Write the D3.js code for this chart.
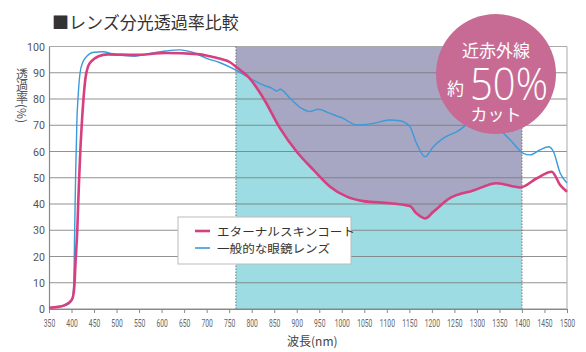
<!DOCTYPE html>
<html>
<head>
<meta charset="utf-8">
<script src="https://cdn.jsdelivr.net/npm/d3@7"></script>
<style>
  body { margin: 0; background: #fff; }
  svg { display: block; font-family: "Noto Sans CJK JP", "Noto Sans", sans-serif; }
</style>
</head>
<body>
<div id="chart"></div>
<script>
// data (wavelength nm, transmittance %)
const coatWl  = [350,370,385,395,402,406,409,413,415,417,420,423,427,431,437,445,460,480,540,610,680,707,730,752,767,792,826,863,900,937,974,1011,1048,1107,1151,1166,1185,1203,1240,1292,1344,1396,1433,1466,1485,1500];
const coatVal = [0.5,0.8,1.5,2.5,4,8,18,31,41,50,62,71,81,88,92.5,94.5,96.3,97,96.8,97.5,97.1,96.3,95.3,94,92,88.5,80.3,68.8,59.9,53,46.6,42.8,41.1,40.3,39.2,36.4,34.5,37,42.2,45.1,47.9,46.3,49.8,52.3,47.2,44.7];

const plainWl  = [350,380,395,402,405,407,409,412,415,419,425,430,440,450,470,490,510,540,570,610,640,670,700,730,765,792,826,846,856,863,885,911,929,948,974,1003,1033,1070,1107,1129,1151,1166,1185,1203,1225,1255,1290,1320,1345,1374,1403,1418,1440,1459,1470,1485,1500];
const plainVal = [0.5,1,2,4,10,30,50,72,82,90,94,95.5,97.2,97.8,98,97.3,96.6,96.3,97.2,98.3,98.7,97.7,95.5,93.8,91,88.3,85.3,84,83,83.7,80.3,76.4,75.2,76.1,74.5,72.6,70.1,70.7,72,71.7,69.5,63.1,58,61.8,65,67.5,71,71,69,64.4,59.3,58.7,60.6,61.8,59.9,51.7,48];

const seriesNames = ["エターナルスキンコート", "一般的な眼鏡レンズ"];
const xTicks = d3.range(350, 1501, 50);
const yTicks = d3.range(0, 101, 10);
const nirBand = [765, 1400];

const width = 586, height = 352;
const margin = {top: 46.5, right: 19, bottom: 43, left: 49};

const x = d3.scaleLinear().domain([350, 1500]).range([margin.left, width - margin.right]);
const y = d3.scaleLinear().domain([0, 100]).range([height - margin.bottom, margin.top]);

const coat = coatWl.map((w, i) => ({w, v: coatVal[i]}));
const plain = plainWl.map((w, i) => ({w, v: plainVal[i]}));

const svg = d3.select("#chart").append("svg")
  .attr("width", width).attr("height", height);

const narrow = "'Liberation Sans Narrow', 'Roboto', sans-serif";

// title
svg.append("text")
  .attr("x", 52).attr("y", 29)
  .attr("font-size", 17).attr("fill", "#333")
  .text("■レンズ分光透過率比較");

// band fills, clipped to the near-infrared range
svg.append("clipPath").attr("id", "band")
  .append("rect")
  .attr("x", x(nirBand[0])).attr("y", y(100))
  .attr("width", x(nirBand[1]) - x(nirBand[0]))
  .attr("height", y(0) - y(100));

const curve = d3.curveMonotoneX;
svg.append("path")
  .datum(coat)
  .attr("clip-path", "url(#band)")
  .attr("fill", "#9edce3")
  .attr("d", d3.area().curve(curve).x(d => x(d.w)).y0(y(0)).y1(d => y(d.v)));
svg.append("path")
  .datum(coat)
  .attr("clip-path", "url(#band)")
  .attr("fill", "#a7a7c3")
  .attr("d", d3.area().curve(curve).x(d => x(d.w)).y0(y(100)).y1(d => y(d.v)));

// grid
svg.append("g")
  .selectAll("line")
  .data(yTicks)
  .join("line")
  .attr("x1", x(350)).attr("x2", x(1500))
  .attr("y1", d => y(d)).attr("y2", d => y(d))
  .attr("stroke", d => d === 100 ? "#aaa" : "#777")
  .attr("stroke-opacity", d => d === 100 ? 1 : 0.8)
  .attr("stroke-width", 1.2);

// frame right
svg.append("line")
  .attr("x1", x(1500)).attr("x2", x(1500))
  .attr("y1", y(0)).attr("y2", y(100))
  .attr("stroke", "#aaa");

// dotted band edges
svg.selectAll(".edge")
  .data(nirBand)
  .join("line")
  .attr("class", "edge")
  .attr("x1", d => x(d)).attr("x2", d => x(d))
  .attr("y1", y(0)).attr("y2", y(100))
  .attr("stroke", "#777")
  .attr("stroke-dasharray", "1.5,1.5");

// axes
const xAxis = svg.append("g")
  .attr("transform", `translate(0,${y(0)})`)
  .call(d3.axisBottom(x).tickValues(xTicks).tickFormat(d3.format("d"))
    .tickSize(4).tickSizeOuter(0).tickPadding(6));
xAxis.select(".domain").attr("stroke", "#888").attr("stroke-width", 1.2);
xAxis.selectAll(".tick line").attr("stroke", "#888");
// labels are very condensed in the original
xAxis.selectAll(".tick text")
  .attr("fill", "#666")
  .attr("font-size", 11)
  .style("font-family", narrow)
  .attr("textLength", d => String(d).length * 3.8)
  .attr("lengthAdjust", "spacingAndGlyphs");

const yAxis = svg.append("g")
  .attr("transform", `translate(${x(350)},0)`)
  .call(d3.axisLeft(y).tickValues(yTicks).tickSize(0).tickPadding(4));
yAxis.select(".domain").attr("stroke", "#888").attr("stroke-width", 1.2);
yAxis.selectAll("text")
  .attr("fill", "#555")
  .attr("font-size", 11.5)
  .style("font-family", narrow)
  .attr("textLength", d => String(d).length * 6)
  .attr("lengthAdjust", "spacingAndGlyphs");

// series lines
const line = d3.line().curve(curve).x(d => x(d.w)).y(d => y(d.v));
svg.append("path").datum(plain)
  .attr("fill", "none").attr("stroke", "#3b9ad8").attr("stroke-width", 1.4)
  .attr("d", line);
svg.append("path").datum(coat)
  .attr("fill", "none").attr("stroke", "#d63f80").attr("stroke-width", 2.6)
  .attr("d", line);

// legend
const lg = svg.append("g").attr("transform", "translate(178,217)");
lg.append("rect")
  .attr("width", 173).attr("height", 47)
  .attr("fill", "#fff").attr("stroke", "#bbb");
const legendColors = ["#d63f80", "#3b9ad8"];
const legendWidths = [2.6, 1.6];
const legendLens = [138, 113];
seriesNames.forEach((name, i) => {
  const ly = 14 + i * 17;
  lg.append("line")
    .attr("x1", 17).attr("x2", 32).attr("y1", ly).attr("y2", ly)
    .attr("stroke", legendColors[i]).attr("stroke-width", legendWidths[i]);
  lg.append("text")
    .attr("x", 39).attr("y", ly + 4.5)
    .attr("font-size", 11.6).attr("fill", "#333")
    .attr("textLength", legendLens[i]).attr("lengthAdjust", "spacingAndGlyphs")
    .text(name);
});

// badge
const badge = svg.append("g").attr("transform", "translate(496,74)");
badge.append("circle").attr("r", 60).attr("fill", "#c76b95");
badge.append("text")
  .attr("y", -17).attr("text-anchor", "middle")
  .attr("font-size", 17).attr("fill", "#fff")
  .text("近赤外線");
badge.append("text")
  .attr("x", -49).attr("y", 21)
  .attr("font-size", 17).attr("fill", "#fff")
  .text("約");
badge.append("text")
  .attr("x", -26).attr("y", 26)
  .attr("font-size", 44).attr("fill", "#fff")
  .attr("font-weight", 300)
  .attr("textLength", 78).attr("lengthAdjust", "spacingAndGlyphs")
  .style("font-family", "'Open Sans', 'Noto Sans', sans-serif")
  .text("50%");
badge.append("text")
  .attr("y", 47).attr("text-anchor", "middle")
  .attr("font-size", 17).attr("fill", "#fff")
  .text("カット");

// axis titles
svg.append("text")
  .attr("x", 22).attr("y", 68)
  .style("writing-mode", "vertical-rl")
  .attr("font-size", 12).attr("fill", "#555")
  .text("透過率(%)");
svg.append("text")
  .attr("x", 287).attr("y", 346)
  .attr("font-size", 12).attr("fill", "#444")
  .text("波長(nm)");
</script>
</body>
</html>
